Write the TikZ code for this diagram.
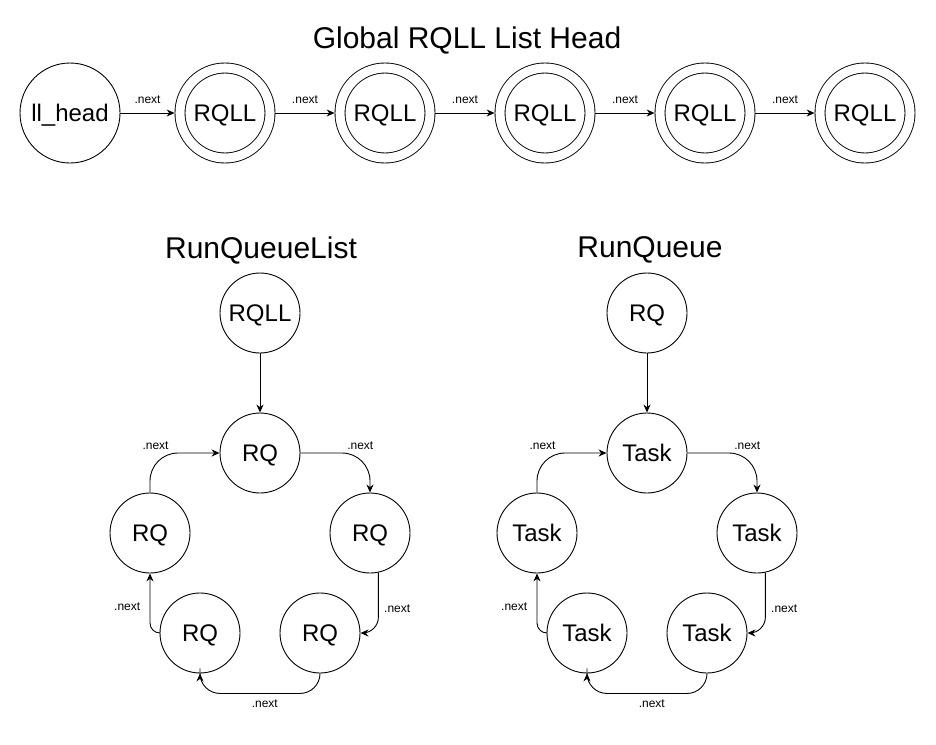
\documentclass[tikz,border=0pt]{standalone}
\usepackage{fontspec}
\setmainfont{Liberation Sans}
\usetikzlibrary{arrows.meta,scopes}

\begin{document}
\begin{tikzpicture}[x=1pt,y=-1pt,>={Stealth[length=8pt,width=7pt]},line width=0.9pt,
        q/.style={circle,draw=black,minimum size=80pt,inner sep=0pt,text height=17pt,text depth=0pt,font=\fontsize{24}{28}\selectfont},
        big/.style={q,minimum size=100pt},
        dbl/.style={q,double,double distance=9.1pt,minimum size=90pt,outer sep=5.4pt},
        lbl/.style={font=\fontsize{12}{14}\selectfont},
        ttl/.style={font=\fontsize{30}{34}\selectfont},
        nx/.style={rounded corners=#1},nx/.default=28pt]
        \useasboundingbox (0,0) rectangle (936,744);

        % global list
        \node[ttl] (gtitle) at (467,40) {Global RQLL List Head};
        \node[big] (head) at (70,113) {ll\_head};
        \node[dbl] (l1) at (225,113) {RQLL};
        \node[dbl] (l2) at (385,113) {RQLL};
        \node[dbl] (l3) at (545,113) {RQLL};
        \node[dbl] (l4) at (705,113) {RQLL};
        \node[dbl] (l5) at (865,113) {RQLL};
        {[->]
        \draw (head.east) -- node[lbl,above,yshift=6pt] {.next} (l1.west);
        \draw (l1.east) -- node[lbl,above,yshift=6pt] {.next} (l2.west);
        \draw (l2.east) -- node[lbl,above,yshift=6pt] {.next} (l3.west);
        \draw (l3.east) -- node[lbl,above,yshift=6pt] {.next} (l4.west);
        \draw (l4.east) -- node[lbl,above,yshift=6pt] {.next} (l5.west);
        }

        % run queue list
        \node[ttl] (ltitle) at (261,250) {RunQueueList};
        \node[q] (rqll) at (260,313) {RQLL};
        \node[q] (a0) at (260,453) {RQ};
        \node[q] (a1) at (370,533) {RQ};
        \node[q] (a2) at (320,633) {RQ};
        \node[q] (a3) at (200,633) {RQ};
        \node[q] (a4) at (150,533) {RQ};
        {[->]
        \draw (rqll) -- (a0);
        \draw[nx] (a0.east) -| node[lbl,pos=0.43,above] {.next} (a1.north);
        \draw[nx=16pt] (a1.-78) |- node[lbl,pos=0.3,right,xshift=2pt] {.next} (a2.east);
        \draw[nx=20pt] (a2.south) -- ++(0,20) -| node[lbl,pos=0.23,below,yshift=-2pt] {.next} (a3.south);
        \draw[nx=10pt] (a3.west) -| node[lbl,pos=0.72,left,xshift=-6pt] {.next} (a4.south);
        \draw[nx] (a4.north) |- node[lbl,pos=0.54,above] {.next} (a0.west);
        }

        % run queue
        \node[ttl] (qtitle) at (650,250) {RunQueue};
        \node[q] (rq) at (647,313) {RQ};
        \node[q] (b0) at (647,453) {Task};
        \node[q] (b1) at (757,533) {Task};
        \node[q] (b2) at (707,633) {Task};
        \node[q] (b3) at (587,633) {Task};
        \node[q] (b4) at (537,533) {Task};
        {[->]
        \draw (rq) -- (b0);
        \draw[nx] (b0.east) -| node[lbl,pos=0.43,above] {.next} (b1.north);
        \draw[nx=16pt] (b1.-78) |- node[lbl,pos=0.3,right,xshift=2pt] {.next} (b2.east);
        \draw[nx=20pt] (b2.south) -- ++(0,20) -| node[lbl,pos=0.23,below,yshift=-2pt] {.next} (b3.south);
        \draw[nx=10pt] (b3.west) -| node[lbl,pos=0.72,left,xshift=-6pt] {.next} (b4.south);
        \draw[nx] (b4.north) |- node[lbl,pos=0.54,above] {.next} (b0.west);
        }
    \end{tikzpicture}
\end{document}
